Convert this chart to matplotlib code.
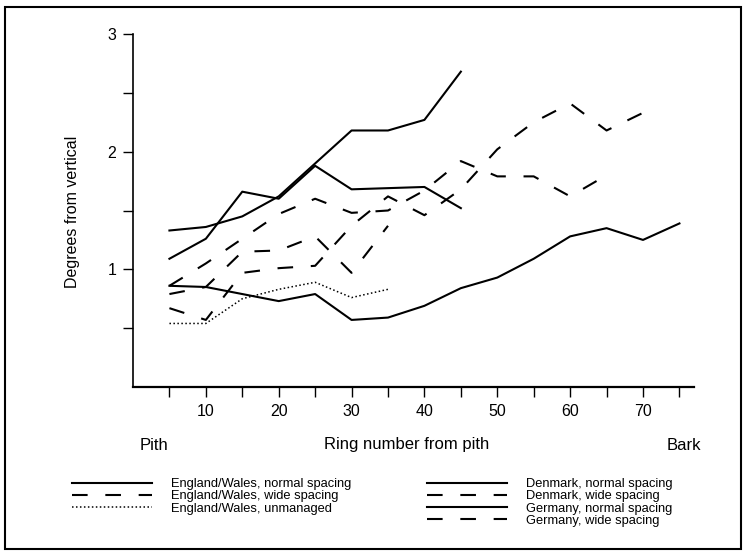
import matplotlib
matplotlib.use("Agg")
from matplotlib import pyplot as plt
from matplotlib.patches import Rectangle
from matplotlib.lines import Line2D

plt.rcParams['font.family'] = ['Liberation Sans', 'DejaVu Sans']

# ring number from pith (x) and degrees from vertical (y)
rings_45 = [5, 10, 15, 20, 25, 30, 35, 40, 45]
rings_35 = [5, 10, 15, 20, 25, 30, 35]
rings_65 = [5, 10, 15, 20, 25, 30, 35, 40, 45, 50, 55, 60, 65]
rings_70 = [5, 10, 15, 20, 25, 30, 35, 40, 45, 50, 55, 60, 65, 70]
rings_75 = [5, 10, 15, 20, 25, 30, 35, 40, 45, 50, 55, 60, 65, 70, 75]

ew_normal = [1.09, 1.26, 1.66, 1.60, 1.88, 1.68, 1.69, 1.70, 1.52]
ew_wide = [0.79, 0.85, 1.15, 1.16, 1.28, 0.97, 1.37]
ew_unmanaged = [0.54, 0.54, 0.75, 0.83, 0.89, 0.76, 0.83]
dk_normal = [1.33, 1.36, 1.45, 1.62, 1.90, 2.18, 2.18, 2.27, 2.68]
dk_wide = [0.86, 1.05, 1.26, 1.47, 1.60, 1.48, 1.50, 1.67, 1.92, 1.79, 1.79, 1.62, 1.80]
de_normal = [0.86, 0.85, 0.79, 0.73, 0.79, 0.57, 0.59, 0.69, 0.84, 0.93, 1.09, 1.28,
             1.35, 1.25, 1.39]
de_wide = [0.67, 0.57, 0.97, 1.01, 1.03, 1.37, 1.62, 1.46, 1.68, 2.02, 2.25, 2.41,
           2.18, 2.33]

labels_left = ["England/Wales, normal spacing", "England/Wales, wide spacing",
               "England/Wales, unmanaged"]
labels_right = ["Denmark, normal spacing", "Denmark, wide spacing",
                "Germany, normal spacing", "Germany, wide spacing"]

W, H = 749, 556
fig = plt.figure(figsize=(W / 100, H / 100), dpi=100)
ax = fig.add_axes([133 / W, 1 - 387 / H, (694 - 133) / W, (387 - 34) / H])

lw = 1.5
solid = dict(color="black", lw=lw, ls="-")
dashed = dict(color="black", lw=lw, ls=(0, (7.5, 8.5)))
dotted = dict(color="black", lw=1.1, ls=(0, (1, 1.6)))

ax.plot(rings_45, ew_normal, **solid)
ax.plot(rings_35, ew_wide, **dashed)
ax.plot(rings_35, ew_unmanaged, **dotted)
ax.plot(rings_45, dk_normal, **solid)
ax.plot(rings_65, dk_wide, **dashed)
ax.plot(rings_75, de_normal, **solid)
ax.plot(rings_70, de_wide, **dashed)

ax.set_xlim(0, 77)
ax.set_ylim(0, 3)
ax.spines["top"].set_visible(False)
ax.spines["right"].set_visible(False)
ax.spines["bottom"].set_linewidth(1.6)
ax.spines["left"].set_linewidth(1.2)

ax.set_xticks([5, 10, 15, 20, 25, 30, 35, 40, 45, 50, 55, 60, 65, 70, 75])
ax.set_xticklabels(["", "10", "", "20", "", "30", "", "40", "", "50", "", "60", "", "70", ""])
ax.set_yticks([0.5, 1, 1.5, 2, 2.5, 3])
ax.set_yticklabels(["", "1", "", "2", "", "3"])
ax.tick_params(axis="x", direction="out", length=7, width=1, labelsize=11.5, pad=5)
ax.tick_params(axis="y", direction="out", length=7, width=1, labelsize=11.5, pad=5)

fig.text(72 / W, 1 - 212 / H, "Degrees from vertical", rotation=90,
         ha="center", va="center", fontsize=11.5)
fig.text(154 / W, 1 - 445 / H, "Pith", ha="center", va="center", fontsize=12)
fig.text(407 / W, 1 - 445 / H, "Ring number from pith", ha="center", va="center", fontsize=12)
fig.text(684 / W, 1 - 445 / H, "Bark", ha="center", va="center", fontsize=12)

h_left = [Line2D([], [], **solid), Line2D([], [], **dashed), Line2D([], [], **dotted)]
h_right = [Line2D([], [], **solid), Line2D([], [], **dashed),
           Line2D([], [], **solid), Line2D([], [], **dashed)]
leg_kw = dict(frameon=False, fontsize=9.3, handlelength=6.2, handletextpad=1.5,
              labelspacing=0.02, borderpad=0, borderaxespad=0, loc="upper left")
fig.legend(h_left, labels_left, bbox_to_anchor=(72 / W, 1 - 478 / H), **leg_kw)
fig.legend(h_right, labels_right, bbox_to_anchor=(427 / W, 1 - 478 / H), **leg_kw)

fig.patches.append(Rectangle((5 / W, 7 / H), (741 - 5) / W, (549 - 7) / H,
                             transform=fig.transFigure, fill=False, lw=1.5,
                             edgecolor="black"))

fig.savefig("out.png", dpi=100)
plt.close("all")
